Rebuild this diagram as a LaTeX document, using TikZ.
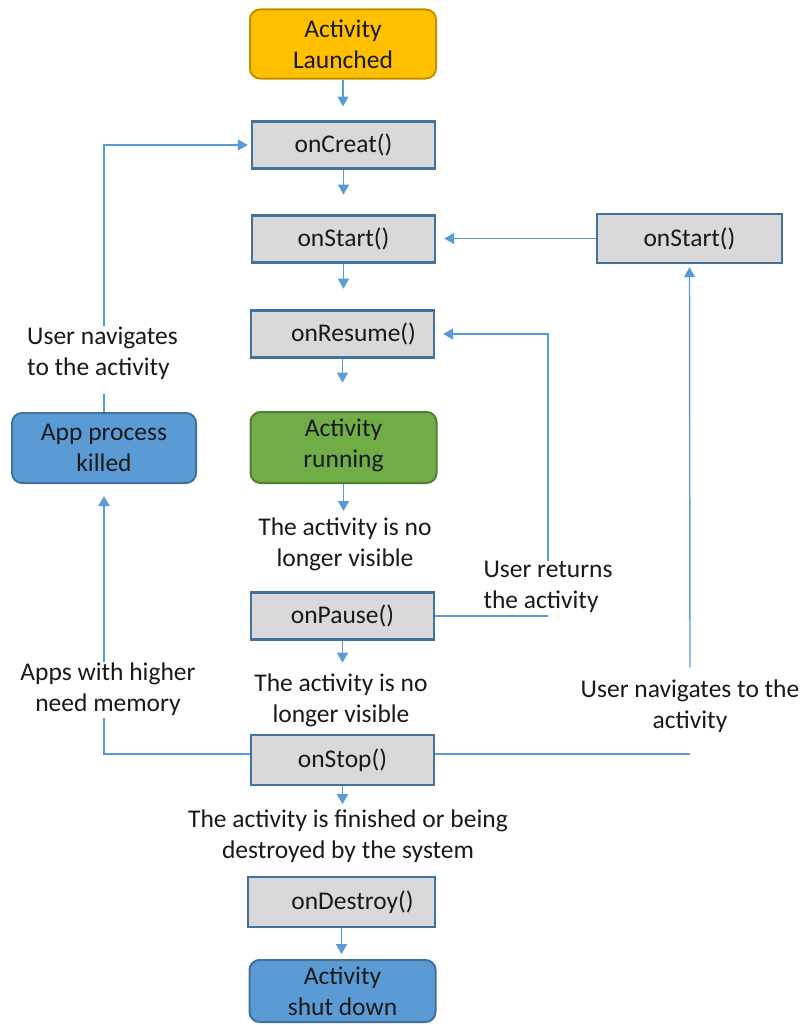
\documentclass[tikz,border=0pt]{standalone}
\usepackage{fontspec}
\setmainfont{Carlito}
\usetikzlibrary{arrows.meta,calc}
\definecolor{linkblue}{HTML}{5B9BD5}
\definecolor{boxedge}{HTML}{41719C}
\definecolor{boxgray}{HTML}{D9D9D9}
\definecolor{launchfill}{HTML}{FFC000}
\definecolor{launchedge}{HTML}{BF9000}
\definecolor{runfill}{HTML}{70AD47}
\definecolor{runedge}{HTML}{507E32}
\definecolor{killfill}{HTML}{5B9BD5}
\begin{document}
\begin{tikzpicture}[x=1pt,y=-1pt,
  every node/.style={font=\fontsize{25.5}{31}\selectfont, text=black!90, inner sep=0pt},
  callback/.style={draw=boxedge, line width=2.4pt, fill=boxgray, minimum width=183pt, minimum height=47pt},
  statebox/.style={rounded corners=10pt, line width=2pt, minimum width=186pt, minimum height=69pt, align=center},
  note/.style={align=center},
  link/.style={draw=linkblue, line width=1.4pt},
  flow/.style={link, -{Triangle[length=10pt,width=11pt]}}
]
\useasboundingbox (0,0) rectangle (803,1025);

% main lifecycle column
\node[statebox, fill=launchfill, draw=launchedge] (launched) at (343,44) {Activity\\Launched};
\node[callback] (create)  at (343.5,145) {onCreat()};
\node[callback] (start)   at (343.5,239) {onStart()};
\node[callback] (resume)  at (342.5,334) {\hspace*{22pt}onResume()};
\node[statebox, fill=runfill, draw=runedge, minimum height=71pt] (running) at (343.5,447.5) {Activity\\running\\[-22pt]};
\node[note] (vis1) at (345,544) {The activity is no\\longer visible};
\node[callback] (pause)   at (342.5,616) {onPause()};
\node[note] (vis2) at (341,700) {The activity is no\\longer visible};
\node[callback, minimum height=50pt] (stop) at (342.5,760) {onStop()};
\node[note] (fin) at (348,836) {The activity is finished or being\\destroyed by the system};
\node[callback, minimum width=187pt, minimum height=50pt] (destroy) at (341.5,902) {\hspace*{22pt}onDestroy()};
\node[statebox, fill=killfill, draw=boxedge, minimum height=62pt] (shutdown) at (342.5,991) {Activity\\shut down};

% side states and notes
\node[statebox, fill=killfill, draw=boxedge, minimum width=184pt, minimum height=70pt] (killed) at (104,448) {App process\\killed};
\node[callback, minimum width=185pt, minimum height=49pt] (start2) at (689.5,238.5) {onStart()};
\node[align=left, anchor=west] (nav1) at (27,353) {User navigates\\to the activity};
\node[note] (mem) at (108,689) {Apps with higher\\need memory};
\node[align=left] (ret) at (548,587) {User returns\\the activity};
\node[note] (nav2) at (690,706) {User navigates to the\\activity};

% straight flow down the column
\draw[flow] (launched.south) -- ++(0,27);
\draw[flow] (create.south) -- ++(0,25);
\draw[flow] (start.south) -- ++(0,25);
\draw[flow] (resume.south) -- ++(0,24);
\draw[flow] (running.south) -- ++(0,27);
\draw[flow] (pause.south) -- ++(0,22);
\draw[flow] (stop.south) -- ++(0,18);
\draw[flow] (destroy.south) -- ++(0,26);

% process killed, then back to onCreat
\draw[link] (killed.north) -- ++(0,-18);
\draw[flow, shorten >=3pt] (killed |- nav1.north) |- (create.west);

% low memory kills the process
\draw[link] ([yshift=6pt]stop.west) -| ($(killed |- mem.south)+(0,2)$);
\draw[flow, shorten >=12pt] (killed |- mem.north) -- (killed.south);

% user returns: onPause back to onResume
\draw[link] (pause.east) -- (pause.east -| ret.center);
\draw[flow, shorten >=8pt] (ret.north) |- (resume.east);

% user navigates back: onStop to the right onStart
\draw[link] ([yshift=6pt]stop.east) -- ([yshift=6pt]stop.east -| start2.south);
\draw[flow, shorten >=3pt] ([yshift=12pt]nav2.north) -- (start2.south);
\draw[flow, shorten >=8pt] (start2.west) -- (start2.west -| start.east);
\end{tikzpicture}
\end{document}
